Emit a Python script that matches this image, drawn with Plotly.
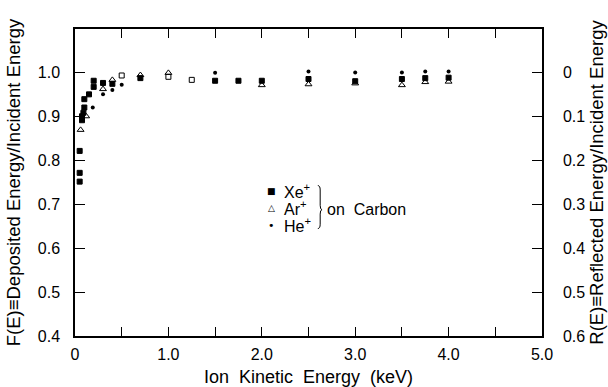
import plotly.graph_objects as go

# Xe+ on carbon: deposited energy fraction F(E) vs ion kinetic energy (keV)
xe_energy = [0.05, 0.05, 0.05, 0.075, 0.075, 0.09, 0.1, 0.1, 0.15, 0.2, 0.2, 0.3, 0.4,
             0.5, 0.7, 1.0, 1.25, 1.5, 1.75, 2.0, 2.5, 3.0, 3.5, 3.75, 4.0]
xe_f = [0.822, 0.772, 0.752, 0.892, 0.901, 0.909, 0.921, 0.940, 0.951, 0.968, 0.982, 0.977, 0.975,
        0.994, 0.988, 0.991, 0.984, 0.982, 0.982, 0.982, 0.986, 0.981, 0.986, 0.988, 0.989]
xe_open = [0.5, 1.0, 1.25]

# Ar+ on carbon
ar_energy = [0.06, 0.12, 0.3, 0.4, 0.7, 1.0, 2.0, 2.5, 3.0, 3.5, 3.75, 4.0]
ar_f = [0.870, 0.901, 0.963, 0.984, 0.995, 1.000, 0.972, 0.974, 0.976, 0.972, 0.979, 0.980]

# He+ on carbon
he_energy = [0.19, 0.3, 0.4, 0.5, 1.5, 2.5, 3.0, 3.5, 3.75, 4.0]
he_f = [0.921, 0.951, 0.961, 0.973, 1.000, 1.003, 1.001, 1.001, 1.003, 1.003]

x_ticks = [0, 1.0, 2.0, 3.0, 4.0, 5.0]
x_labels = ["0", "1.0", "2.0", "3.0", "4.0", "5.0"]
f_ticks = [0.4, 0.5, 0.6, 0.7, 0.8, 0.9, 1.0]
f_labels = ["0.4", "0.5", "0.6", "0.7", "0.8", "0.9", "1.0"]
r_ticks = [0, 0.1, 0.2, 0.3, 0.4, 0.5, 0.6]
r_labels = ["0", "0.1", "0.2", "0.3", "0.4", "0.5", "0.6"]

# legend rows: glyph, ion label, row height on the F(E) scale
key_glyphs = ["\u25A0", "\u25B3", "\u2022"]
key_labels = ["Xe<sup>+</sup>", "Ar<sup>+</sup>", "He<sup>+</sup>"]
key_rows = [0.731, 0.691, 0.653]

FONT = "Liberation Sans, Arial, Helvetica, sans-serif"

fig = go.Figure()
fig.add_trace(go.Scatter(
    x=xe_energy, y=xe_f, mode="markers", name="Xe+",
    marker=dict(symbol=["square-open" if e in xe_open else "square" for e in xe_energy],
                size=5, color="black", line=dict(width=1, color="black")),
))
fig.add_trace(go.Scatter(
    x=ar_energy, y=ar_f, mode="markers", name="Ar+",
    marker=dict(symbol="triangle-up-open", size=6, color="black", line=dict(width=1)),
))
fig.add_trace(go.Scatter(
    x=he_energy, y=he_f, mode="markers", name="He+",
    marker=dict(symbol="circle", size=4, color="black", line=dict(width=0)),
))
# reflected fraction R = 1 - F on the right-hand scale (kept invisible, sets the axis)
fig.add_trace(go.Scatter(
    x=xe_energy, y=[1 - v for v in xe_f], yaxis="y2", mode="markers",
    marker=dict(opacity=0), showlegend=False, hoverinfo="skip",
))

# key: small glyph + ion name for each row
glyph_sizes = [9, 9, 11]
for g, lab, yr, gs in zip(key_glyphs, key_labels, key_rows, glyph_sizes):
    fig.add_annotation(x=2.10, y=yr, xref="x", yref="y", text=g, showarrow=False,
                       xanchor="center", yanchor="middle",
                       font=dict(family="DejaVu Sans", size=gs, color="black"))
    fig.add_annotation(x=2.22, y=yr, xref="x", yref="y", text=lab, showarrow=False,
                       xanchor="left", yanchor="middle",
                       font=dict(family=FONT, size=16, color="black"))

# brace joining the key entries
bx0, bx1, bxm = 2.60, 2.645, 2.625
by_top, by_mid, by_bot = 0.743, 0.688, 0.645
brace = (f"M {bx0},{by_top} Q {bxm},{by_top} {bxm},{by_top - 0.01} "
         f"L {bxm},{by_mid + 0.01} Q {bxm},{by_mid} {bx1},{by_mid} "
         f"Q {bxm},{by_mid} {bxm},{by_mid - 0.01} "
         f"L {bxm},{by_bot + 0.01} Q {bxm},{by_bot} {bx0},{by_bot}")
fig.add_shape(type="path", path=brace, xref="x", yref="y",
              line=dict(color="black", width=1))
fig.add_annotation(x=2.68, y=0.688, xref="x", yref="y", text="on  Carbon",
                   showarrow=False, xanchor="left", yanchor="middle",
                   font=dict(family=FONT, size=16, color="black"))

fig.update_layout(
    width=608, height=387,
    margin=dict(l=75, r=66, t=29, b=51, autoexpand=False),
    paper_bgcolor="white", plot_bgcolor="white",
    font=dict(family=FONT, size=16, color="black"),
    showlegend=False,
    xaxis=dict(range=[0, 5], tickvals=x_ticks, ticktext=x_labels,
               ticks="inside", ticklen=9, tickwidth=1, tickcolor="black",
               minor=dict(dtick=0.5, tick0=0, ticks="inside", ticklen=9,
                          tickwidth=1, tickcolor="black"),
               showline=True, linecolor="black", linewidth=1.5, mirror="ticks",
               showgrid=False, zeroline=False, ticklabelstandoff=3, automargin=False,
               title=dict(text="Ion  Kinetic  Energy  (keV)", standoff=10,
                          font=dict(size=18)),
               tickfont=dict(size=16)),
    yaxis=dict(range=[0.4, 1.1], tickvals=f_ticks, ticktext=f_labels,
               ticks="inside", ticklen=10, tickwidth=1, tickcolor="black",
               showline=True, linecolor="black", linewidth=1.5,
               showgrid=False, zeroline=False, ticklabelstandoff=10, automargin=False,
               title=dict(text="F(E)\u2261Deposited Energy/Incident Energy",
                          standoff=12, font=dict(size=18.5)),
               tickfont=dict(size=16)),
    yaxis2=dict(range=[0.6, -0.1], overlaying="y", side="right",
                tickvals=r_ticks, ticktext=r_labels,
                ticks="inside", ticklen=10, tickwidth=1, tickcolor="black",
                showline=True, linecolor="black", linewidth=1.5,
                showgrid=False, zeroline=False, ticklabelstandoff=16, automargin=False,
                title=dict(text="R(E)\u2261Reflected Energy/Incident Energy",
                           standoff=6, font=dict(size=18.5)),
                tickfont=dict(size=16)),
)

fig.write_html("out.html")
